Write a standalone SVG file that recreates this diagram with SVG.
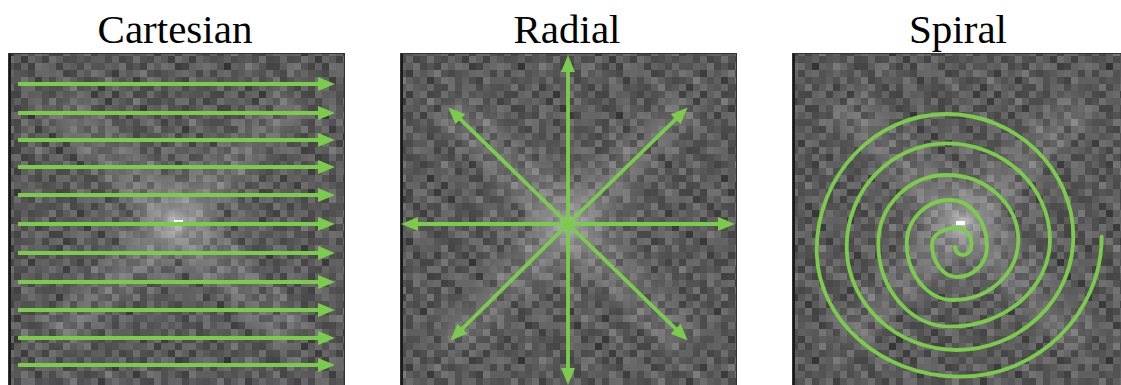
<svg xmlns="http://www.w3.org/2000/svg" width="1121" height="385" viewBox="0 0 1121 385">
<style>
.title{font-family:"Liberation Serif","Times New Roman",serif;font-size:41px;fill:#000;text-anchor:middle}
.arrow{stroke:#7ccb4c;stroke-width:3.8;fill:none;marker-end:url(#head)}
.spiral{stroke:#7ccb4c;stroke-width:3.8;fill:none;stroke-linecap:round}
.xstreak{stroke:#fff;stroke-width:34;opacity:0.13;fill:none}
.mute{fill:#5c5c5c;opacity:0.28}
</style>
<defs>
<marker id="head" markerUnits="userSpaceOnUse" markerWidth="18" markerHeight="15" refX="9" refY="7" orient="auto">
<path d="M0,0 L17,7 L0,14 z" fill="#7ccb4c"/>
</marker>
<pattern id="noiseA" patternUnits="userSpaceOnUse" width="42" height="42">
<rect width="42" height="42" fill="#5a5a5a"/>
<rect x="0" y="0" width="7" height="7" fill="#555"/><rect x="7" y="0" width="7" height="7" fill="#6a6a6a"/><rect x="14" y="0" width="7" height="7" fill="#444"/><rect x="21" y="0" width="7" height="7" fill="#5e5e5e"/><rect x="28" y="0" width="7" height="7" fill="#727272"/><rect x="35" y="0" width="7" height="7" fill="#4c4c4c"/>
<rect x="0" y="7" width="7" height="7" fill="#666"/><rect x="7" y="7" width="7" height="7" fill="#3e3e3e"/><rect x="14" y="7" width="7" height="7" fill="#5a5a5a"/><rect x="21" y="7" width="7" height="7" fill="#707070"/><rect x="28" y="7" width="7" height="7" fill="#505050"/><rect x="35" y="7" width="7" height="7" fill="#626262"/>
<rect x="0" y="14" width="7" height="7" fill="#4a4a4a"/><rect x="7" y="14" width="7" height="7" fill="#747474"/><rect x="14" y="14" width="7" height="7" fill="#606060"/><rect x="21" y="14" width="7" height="7" fill="#464646"/><rect x="28" y="14" width="7" height="7" fill="#686868"/><rect x="35" y="14" width="7" height="7" fill="#585858"/>
<rect x="0" y="21" width="7" height="7" fill="#6e6e6e"/><rect x="7" y="21" width="7" height="7" fill="#525252"/><rect x="14" y="21" width="7" height="7" fill="#3c3c3c"/><rect x="21" y="21" width="7" height="7" fill="#646464"/><rect x="28" y="21" width="7" height="7" fill="#5c5c5c"/><rect x="35" y="21" width="7" height="7" fill="#767676"/>
<rect x="0" y="28" width="7" height="7" fill="#585858"/><rect x="7" y="28" width="7" height="7" fill="#686868"/><rect x="14" y="28" width="7" height="7" fill="#707070"/><rect x="21" y="28" width="7" height="7" fill="#4e4e4e"/><rect x="28" y="28" width="7" height="7" fill="#424242"/><rect x="35" y="28" width="7" height="7" fill="#6a6a6a"/>
<rect x="0" y="35" width="7" height="7" fill="#626262"/><rect x="7" y="35" width="7" height="7" fill="#484848"/><rect x="14" y="35" width="7" height="7" fill="#565656"/><rect x="21" y="35" width="7" height="7" fill="#7a7a7a"/><rect x="28" y="35" width="7" height="7" fill="#606060"/><rect x="35" y="35" width="7" height="7" fill="#4e4e4e"/>
</pattern>
<pattern id="noiseB" patternUnits="userSpaceOnUse" width="49" height="49">
<rect x="7" y="0" width="7" height="7" fill="#000" opacity="0.35"/><rect x="35" y="0" width="7" height="7" fill="#fff" opacity="0.12"/>
<rect x="21" y="7" width="7" height="7" fill="#000" opacity="0.3"/><rect x="42" y="7" width="7" height="7" fill="#000" opacity="0.2"/>
<rect x="0" y="14" width="7" height="7" fill="#fff" opacity="0.1"/><rect x="28" y="14" width="7" height="7" fill="#000" opacity="0.4"/>
<rect x="14" y="21" width="7" height="7" fill="#000" opacity="0.25"/><rect x="42" y="21" width="7" height="7" fill="#fff" opacity="0.12"/>
<rect x="7" y="28" width="7" height="7" fill="#fff" opacity="0.1"/><rect x="35" y="28" width="7" height="7" fill="#000" opacity="0.35"/>
<rect x="0" y="35" width="7" height="7" fill="#000" opacity="0.3"/><rect x="21" y="35" width="7" height="7" fill="#fff" opacity="0.1"/>
<rect x="14" y="42" width="7" height="7" fill="#000" opacity="0.35"/><rect x="42" y="42" width="7" height="7" fill="#000" opacity="0.25"/><rect x="28" y="42" width="7" height="7" fill="#fff" opacity="0.08"/>
</pattern>
<radialGradient id="glow" cx="0.5" cy="0.5" r="0.5">
<stop offset="0" stop-color="#fff" stop-opacity="0.55"/>
<stop offset="0.15" stop-color="#fff" stop-opacity="0.22"/>
<stop offset="0.5" stop-color="#fff" stop-opacity="0.06"/>
<stop offset="1" stop-color="#fff" stop-opacity="0"/>
</radialGradient>
<filter id="soft" x="-20%" y="-20%" width="140%" height="140%"><feGaussianBlur stdDeviation="9"/></filter>
<clipPath id="c1"><rect x="8" y="53" width="337" height="337"/></clipPath>
<clipPath id="c2"><rect x="400" y="53" width="337" height="337"/></clipPath>
<clipPath id="c3"><rect x="792" y="53" width="337" height="337"/></clipPath>
</defs>
<rect width="1121" height="385" fill="#fff"/>

<g id="panel-cartesian">
<text class="title" x="175" y="43">Cartesian</text>
<g clip-path="url(#c1)">
<rect x="8" y="53" width="337" height="337" fill="url(#noiseA)"/>
<rect x="8" y="53" width="337" height="337" fill="url(#noiseB)"/>
<rect class="mute" x="8" y="53" width="337" height="337"/>
<g filter="url(#soft)"><path class="xstreak" d="M56,100 L296,340 M296,100 L56,340"/></g>
<rect x="76" y="122" width="200" height="200" fill="url(#glow)"/>
<rect x="174" y="220" width="9" height="3" fill="#fff"/>
<rect x="8" y="53" width="3" height="337" fill="#1a1a1a"/>
</g>
<rect x="8.5" y="53.5" width="336" height="340" fill="none" stroke="#333" stroke-width="1"/>
</g>

<g id="panel-radial">
<text class="title" x="567" y="43">Radial</text>
<g clip-path="url(#c2)">
<rect x="400" y="53" width="337" height="337" fill="url(#noiseA)"/>
<rect x="400" y="53" width="337" height="337" fill="url(#noiseB)"/>
<rect class="mute" x="400" y="53" width="337" height="337"/>
<g filter="url(#soft)"><path class="xstreak" d="M448,104 L688,344 M688,104 L448,344"/></g>
<rect x="468" y="124" width="200" height="200" fill="url(#glow)"/>
<rect x="400" y="53" width="3" height="337" fill="#1a1a1a"/>
</g>
<rect x="400.5" y="53.5" width="336" height="340" fill="none" stroke="#333" stroke-width="1"/>
</g>

<g id="panel-spiral">
<text class="title" x="958" y="43">Spiral</text>
<g clip-path="url(#c3)">
<rect x="792" y="53" width="337" height="337" fill="url(#noiseA)"/>
<rect x="792" y="53" width="337" height="337" fill="url(#noiseB)"/>
<rect class="mute" x="792" y="53" width="337" height="337"/>
<g filter="url(#soft)"><path class="xstreak" d="M842,103 L1082,343 M1082,103 L842,343"/></g>
<rect x="862" y="123" width="200" height="200" fill="url(#glow)"/>
<rect x="956" y="221" width="9" height="4" fill="#fff"/>
<rect x="792" y="53" width="3" height="337" fill="#1a1a1a"/>
</g>
<rect x="792.5" y="53.5" width="340" height="340" fill="none" stroke="#333" stroke-width="1"/>
</g>

<g id="connectors">
<line class="arrow" x1="18" y1="84" x2="327" y2="84"/>
<line class="arrow" x1="18" y1="113" x2="327" y2="113"/>
<line class="arrow" x1="18" y1="140" x2="327" y2="140"/>
<line class="arrow" x1="18" y1="167" x2="327" y2="167"/>
<line class="arrow" x1="18" y1="195" x2="327" y2="195"/>
<line class="arrow" x1="18" y1="224" x2="327" y2="224"/>
<line class="arrow" x1="18" y1="253" x2="327" y2="253"/>
<line class="arrow" x1="18" y1="282" x2="327" y2="282"/>
<line class="arrow" x1="18" y1="310" x2="327" y2="310"/>
<line class="arrow" x1="18" y1="338" x2="327" y2="338"/>
<line class="arrow" x1="18" y1="365" x2="327" y2="365"/>

<line class="arrow" x1="568" y1="224" x2="568" y2="63"/>
<line class="arrow" x1="568" y1="224" x2="568" y2="377"/>
<line class="arrow" x1="568" y1="224" x2="409" y2="224"/>
<line class="arrow" x1="568" y1="224" x2="727" y2="224"/>
<line class="arrow" x1="568" y1="224" x2="454" y2="113"/>
<line class="arrow" x1="568" y1="224" x2="682" y2="113"/>
<line class="arrow" x1="568" y1="224" x2="456" y2="335"/>
<line class="arrow" x1="568" y1="224" x2="682" y2="335"/>

<path class="spiral" d="M955,247 C955,251.4 958.6,255 963,255 C967.7,255 971.5,250 971.5,244 C971.5,235.2 965,228 957,228 C943.3,228 932,235.2 932,244 C932,262.2 943.3,277 957,277 C973.5,277 987,263.3 987,246.5 C987,220.9 970.4,200 950,200 C926.2,200 906.7,219.5 906.7,243.3 C906.7,274.5 927.7,300 953.3,300 C989.1,300 1018.3,273 1018.3,240 C1018.3,204.3 986.1,175 946.7,175 C909.1,175 878.3,205.7 878.3,243.3 C878.3,289.2 910.6,326.7 950,326.7 C1005,326.7 1050,287.7 1050,240 C1050,186.8 1003.5,143.3 946.7,143.3 C891.7,143.3 846.7,189.8 846.7,246.7 C846.7,303.5 896.2,350 956.7,350 C1020.8,350 1073.3,299 1073.3,236.7 C1073.3,169.2 1016.3,114 946.7,114 C875.2,114 816.7,175.2 816.7,250 C816.7,319.7 881.2,376.7 960,376.7 C1037.9,376.7 1101.7,313.7 1101.7,236.7"/>
</g>
</svg>
